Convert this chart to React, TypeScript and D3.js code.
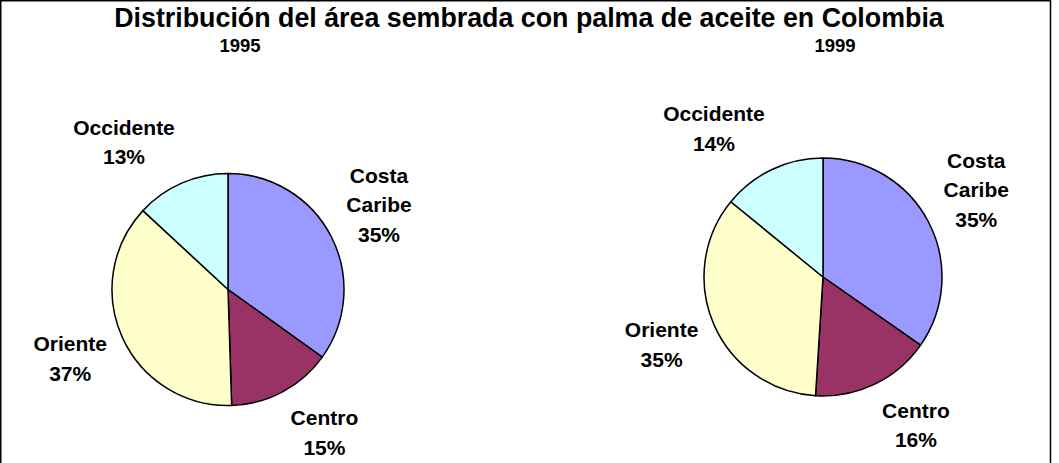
import React from "react";
import * as d3 from "d3";

// datos (porcentaje del area sembrada)
const regions = ["Costa Caribe", "Centro", "Oriente", "Occidente"];
const labelLines = [["Costa", "Caribe"], ["Centro"], ["Oriente"], ["Occidente"]];
const years = ["1995", "1999"];
const area1995 = [34.9, 14.6, 37.4, 13.1];
const area1999 = [34.7, 16.3, 34.9, 14.1];
const colors = ["#9999FF", "#993366", "#FFFFCC", "#CCFFFF"];

const Width = 1059;
const Height = 463;
const FONT = "'Liberation Sans', Arial, Helvetica, sans-serif";
const LABEL_SIZE = 21;
const LINE_H = 29.5;

let ctx: CanvasRenderingContext2D | null = null;
function textWidth(t: string) {
    if (!ctx) ctx = document.createElement("canvas").getContext("2d");
    if (!ctx) return t.length * 11;
    ctx.font = "bold " + LABEL_SIZE + "px " + FONT;
    return ctx.measureText(t).width;
}

function Pie({ values, year, cx, cy, r, yearX }) {
    const arcs = d3.pie<number>().sort(null).value((d) => d)(values);
    const arcGen = d3.arc<d3.PieArcDatum<number>>().innerRadius(0).outerRadius(r);

    return (
        <g>
            <text x={yearX} y={52} textAnchor="middle" fontSize={18.5} fontWeight="bold">
                {year}
            </text>
            <g transform={`translate(${cx},${cy})`}>
                {arcs.map((a, i) => (
                    <path
                        key={regions[i]}
                        d={arcGen(a) || ""}
                        fill={colors[i]}
                        stroke="#000"
                        strokeWidth={1.5}
                        strokeLinejoin="round"
                    />
                ))}
                {arcs.map((a, i) => {
                    // label box pushed outward from the mid angle, like Excel does
                    const mid = (a.startAngle + a.endAngle) / 2;
                    const dx = Math.sin(mid);
                    const dy = -Math.cos(mid);
                    const lines = [...labelLines[i], Math.round(a.value) + "%"];
                    const w = Math.max(...lines.map(textWidth));
                    const h = lines.length * LINE_H - 8;
                    const fx = Math.sign(dx) * Math.min(1, Math.abs(dx) * 2.5);
                    const fy = Math.max(-1, Math.min(1, dy * 1.3));
                    const lx = (r + 17) * dx + (w / 2) * fx;
                    const ly = (r + 17) * dy + (h / 2) * fy;
                    const y0 = ly - ((lines.length - 1) * LINE_H) / 2 + 7.5;
                    return (
                        <text key={"l" + i} textAnchor="middle" fontSize={LABEL_SIZE} fontWeight="bold">
                            {lines.map((t, j) => (
                                <tspan key={j} x={lx} y={y0 + j * LINE_H}>
                                    {t}
                                </tspan>
                            ))}
                        </text>
                    );
                })}
            </g>
        </g>
    );
}

export default function App() {
    return (
        <div style={{ position: "fixed", left: 0, top: 0, width: Width, height: Height, background: "#fff" }}>
            <svg width={Width} height={Height} style={{ display: "block", fontFamily: FONT }}>
                <rect x={0} y={0} width={Width} height={Height} fill="#fff" />
                <path
                    d={`M0.75,${Height + 5} V0.75 H1050.5 V${Height + 5}`}
                    fill="none"
                    stroke="#000"
                    strokeWidth={1.5}
                />
                <text x={529} y={27} textAnchor="middle" fontSize={26.8} fontWeight="bold">
                    Distribución del área sembrada con palma de aceite en Colombia
                </text>
                <Pie values={area1995} year={years[0]} cx={228} cy={289.5} r={116} yearX={240} />
                <Pie values={area1999} year={years[1]} cx={823} cy={277} r={119} yearX={835} />
            </svg>
        </div>
    );
}
